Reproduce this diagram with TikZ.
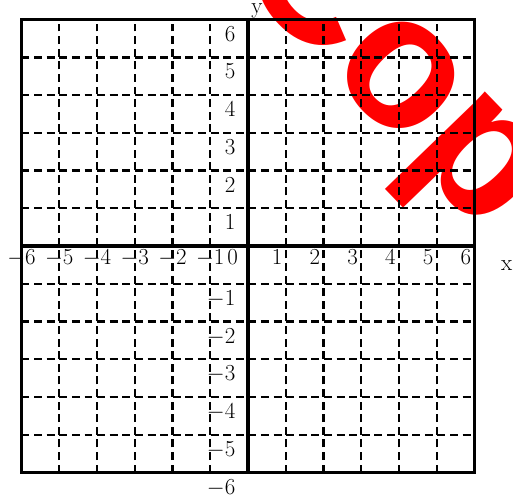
\documentclass[tikz,border=0pt]{standalone}
\usepackage{fontspec}
\newfontfamily\stampfont{Liberation Sans}
\begin{document}
\begin{tikzpicture}[font = \LARGE,
		gridline/.style = {line width = 1.7pt, dash pattern = on 6pt off 3.5pt},
		num/.style = {inner sep = 0pt}]
		\useasboundingbox (-6.57, -6.70) rectangle (7.02, 6.52);
		\begin{scope}
			\clip (-6.57, -6.70) rectangle (7.02, 6.52);
			\node[text = red, inner sep = 0pt, anchor = base west, rotate = -46, font = \stampfont\bfseries\fontsize{143}{143}\selectfont] (stamp) at (-0.50, 7.31) {Cop};
		\end{scope}
		\draw[gridline] \foreach \i in {-5,-4,...,5}{ (\i, -6) -- (\i, 6) (-6, \i) -- (6, \i)};
		\draw[line width = 1.7pt] (-6, -6) rectangle (6, 6);
		\draw[line width = 2.5pt] (-6, 0) -- (6, 0) (0, -6) -- (0, 6);
		\foreach \i in {1,2,...,6}{
			\node[num, anchor = north east] (xp\i) at (\i - 0.08, -0.1) {$\i$};
			\node[num, anchor = north] (xn\i) at (-\i, -0.1) {$-\i$};
			\node[num, anchor = north east] (yp\i) at (-0.33, \i - 0.17) {$\i$};
			\node[num, anchor = north east] (yn\i) at (-0.33, -\i - 0.17) {$-\i$};
		}
		\node[num, anchor = north east] (zero) at (-0.26, -0.1) {$0$};
		\node[num, anchor = base west] (xname) at (6.70, -0.64) {x};
		\node[num, anchor = base west] (yname) at (0.08, 6.17) {y};
	\end{tikzpicture}
\end{document}
